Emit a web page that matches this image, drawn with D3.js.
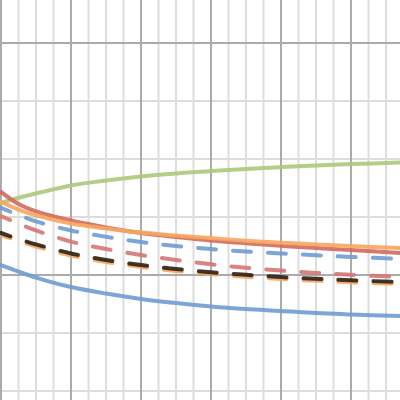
<!DOCTYPE html>
<html>
<head>
<meta charset="utf-8">
<script src="https://cdn.jsdelivr.net/npm/d3@7"></script>
<style>
  html, body { margin: 0; padding: 0; background: #ffffff; }
  svg { display: block; }
</style>
</head>
<body>
<div id="chart"></div>
<script>
// ---- data ----
const xValues = [0, 0.25, 0.5, 1, 1.5, 2, 2.5, 3, 3.5, 4, 4.5, 5, 5.7];

const greenSolid   = [1.310, 1.333, 1.351, 1.386, 1.407, 1.425, 1.438, 1.448, 1.457, 1.465, 1.472, 1.478, 1.485];
const redSolid     = [1.358, 1.306, 1.274, 1.235, 1.205, 1.181, 1.164, 1.149, 1.137, 1.126, 1.116, 1.108, 1.095];
const orangeSolid  = [1.315, 1.282, 1.257, 1.222, 1.200, 1.183, 1.170, 1.159, 1.148, 1.139, 1.132, 1.125, 1.116];
const blueDashed   = [1.289, 1.259, 1.231, 1.192, 1.165, 1.142, 1.125, 1.112, 1.101, 1.093, 1.085, 1.078, 1.069];
const pinkDashed   = [1.254, 1.222, 1.192, 1.144, 1.112, 1.086, 1.065, 1.046, 1.031, 1.019, 1.009, 1.001, 0.991];
const orangeDashed = [1.172, 1.147, 1.123, 1.084, 1.056, 1.035, 1.017, 1.004, 0.992, 0.983, 0.975, 0.969, 0.961];
const blackDashed  = [1.181, 1.155, 1.132, 1.093, 1.065, 1.043, 1.026, 1.012, 1.001, 0.991, 0.984, 0.977, 0.970];
const blueSolid    = [1.043, 1.015, 0.989, 0.948, 0.920, 0.897, 0.879, 0.864, 0.853, 0.845, 0.836, 0.830, 0.823];

const xMajorTicks = [0, 1, 2, 3, 4, 5];
const xMinorTicks = d3.range(0, 5.76, 0.25);
const yMajorTicks = [1, 2];
const yMinorTicks = [0.5, 0.75, 1.25, 1.5, 1.75];

const seriesList = [
  { name: "blueSolid",    values: blueSolid,    color: "#6f9bd1", dashed: false },
  { name: "greenSolid",   values: greenSolid,   color: "#abc97c", dashed: false },
  { name: "redSolid",     values: redSolid,     color: "#d1695d", dashed: false },
  { name: "orangeSolid",  values: orangeSolid,  color: "#f7a65e", dashed: false },
  { name: "blueDashed",   values: blueDashed,   color: "#6f9bd1", dashed: true },
  { name: "pinkDashed",   values: pinkDashed,   color: "#d57575", dashed: true },
  { name: "orangeDashed", values: orangeDashed, color: "#f7a65e", dashed: true },
  { name: "blackDashed",  values: blackDashed,  color: "#2a2117", dashed: true }
];

// ---- chart ----
const W = 400, H = 400;
const svg = d3.select("#chart").append("svg").attr("width", W).attr("height", H);

const x = d3.scaleLinear().domain([0, 5]).range([1, 351]);
const y = d3.scaleLinear().domain([1, 2]).range([275, 43]);

const grid = svg.append("g");
grid.selectAll("line.xminor").data(xMinorTicks).join("line")
  .attr("x1", d => x(d)).attr("x2", d => x(d)).attr("y1", 0).attr("y2", H)
  .attr("stroke", "#dddddd").attr("stroke-width", 2);
grid.selectAll("line.yminor").data(yMinorTicks).join("line")
  .attr("y1", d => y(d)).attr("y2", d => y(d)).attr("x1", 0).attr("x2", W)
  .attr("stroke", "#dddddd").attr("stroke-width", 2);
grid.selectAll("line.xmajor").data(xMajorTicks).join("line")
  .attr("x1", d => x(d)).attr("x2", d => x(d)).attr("y1", 0).attr("y2", H)
  .attr("stroke", "#ababab").attr("stroke-width", 2);
grid.selectAll("line.ymajor").data(yMajorTicks).join("line")
  .attr("y1", d => y(d)).attr("y2", d => y(d)).attr("x1", 0).attr("x2", W)
  .attr("stroke", "#ababab").attr("stroke-width", 2);

const line = d3.line()
  .x((d, i) => x(xValues[i]))
  .y(d => y(d))
  .curve(d3.curveCatmullRom.alpha(0.5));

svg.append("g").selectAll("path").data(seriesList).join("path")
  .attr("d", s => line(s.values))
  .attr("fill", "none")
  .attr("stroke", s => s.color)
  .attr("stroke-width", 4)
  .attr("stroke-linecap", "round")
  .attr("stroke-opacity", 0.9)
  .attr("stroke-dasharray", s => s.dashed ? "18,17" : null)
  .attr("stroke-dashoffset", s => s.dashed ? 8 : null);
</script>
</body>
</html>
